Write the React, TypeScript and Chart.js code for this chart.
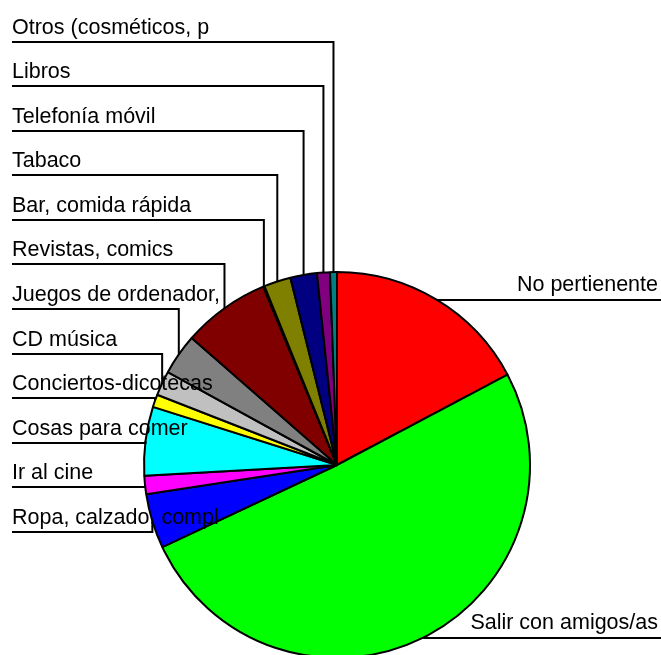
import React, { useEffect, useRef } from "react";
import { Chart, registerables } from "chart.js";

Chart.register(...registerables);

const categories = [
  "No pertienente",
  "Salir con amigos/as",
  "Ropa, calzado, compl",
  "Ir al cine",
  "Cosas para comer",
  "Conciertos-dicotecas",
  "CD música",
  "Juegos de ordenador,",
  "Revistas, comics",
  "Bar, comida rápida",
  "Tabaco",
  "Telefonía móvil",
  "Libros",
  "Otros (cosméticos, p",
];

const values = [17.25, 50.75, 4.58, 1.53, 5.75, 1.06, 2.06, 3.44, 7.33, 0.11, 2.25, 2.22, 1.08, 0.58];

const colors = [
  "#FF0000",
  "#00FF00",
  "#0000FF",
  "#FF00FF",
  "#00FFFF",
  "#FFFF00",
  "#C0C0C0",
  "#808080",
  "#800000",
  "#003300",
  "#808000",
  "#000080",
  "#800080",
  "#008080",
];

// categories whose labels sit on the right side of the pie
const rightLabels = ["No pertienente", "Salir con amigos/as"];

const FONT = '21.5px "Liberation Sans", Arial, sans-serif';

const leaderLabels = {
  id: "leaderLabels",
  afterDraw(chart: any) {
    const ctx = chart.ctx as CanvasRenderingContext2D;
    const meta = chart.getDatasetMeta(0);
    const n = categories.length;
    const W = chart.width;
    ctx.save();
    ctx.font = FONT;
    ctx.fillStyle = "#000";
    ctx.strokeStyle = "#000";
    ctx.lineWidth = 2;
    ctx.lineJoin = "miter";
    meta.data.forEach((arc: any, i: number) => {
      const p = arc.getProps(["x", "y", "startAngle", "endAngle", "outerRadius"], true);
      const mid = (p.startAngle + p.endAngle) / 2;
      const ax = p.x + p.outerRadius * Math.cos(mid);
      const ay = p.y + p.outerRadius * Math.sin(mid);
      const label = categories[i];
      if (rightLabels.includes(label)) {
        const uy = Math.round(ay);
        ctx.beginPath();
        ctx.moveTo(ax, uy);
        ctx.lineTo(W, uy);
        ctx.stroke();
        ctx.textAlign = "right";
        ctx.textBaseline = "alphabetic";
        ctx.fillText(label, W - 3, uy - 9.5);
      } else {
        const j = n - 1 - i;
        const uy = Math.round(41.7 + j * 44.545);
        ctx.beginPath();
        ctx.moveTo(12, uy);
        ctx.lineTo(ax, uy);
        ctx.lineTo(ax, ay);
        ctx.stroke();
        ctx.textAlign = "left";
        ctx.textBaseline = "alphabetic";
        ctx.fillText(label, 12, uy - 8.5);
      }
    });
    ctx.restore();
  },
};

export default function App() {
  const ref = useRef<HTMLCanvasElement | null>(null);
  useEffect(() => {
    if (!ref.current) return;
    const chart = new Chart(ref.current, {
      type: "pie",
      data: {
        labels: categories,
        datasets: [
          {
            data: values,
            backgroundColor: colors,
            borderColor: "#000000",
            borderWidth: 2,
            hoverOffset: 0,
          },
        ],
      },
      options: {
        responsive: false,
        animation: false,
        events: [],
        layout: { padding: { left: 143, right: 130, top: 271, bottom: 41 } },
        plugins: { legend: { display: false }, tooltip: { enabled: false } },
      },
      plugins: [leaderLabels],
    });
    return () => chart.destroy();
  }, []);
  return (
    <div
      style={{
        position: "absolute",
        left: 0,
        top: 0,
        width: 661,
        height: 655,
        overflow: "hidden",
        background: "#fff",
      }}
    >
      <canvas ref={ref} width={661} height={700} style={{ display: "block" }} />
    </div>
  );
}
